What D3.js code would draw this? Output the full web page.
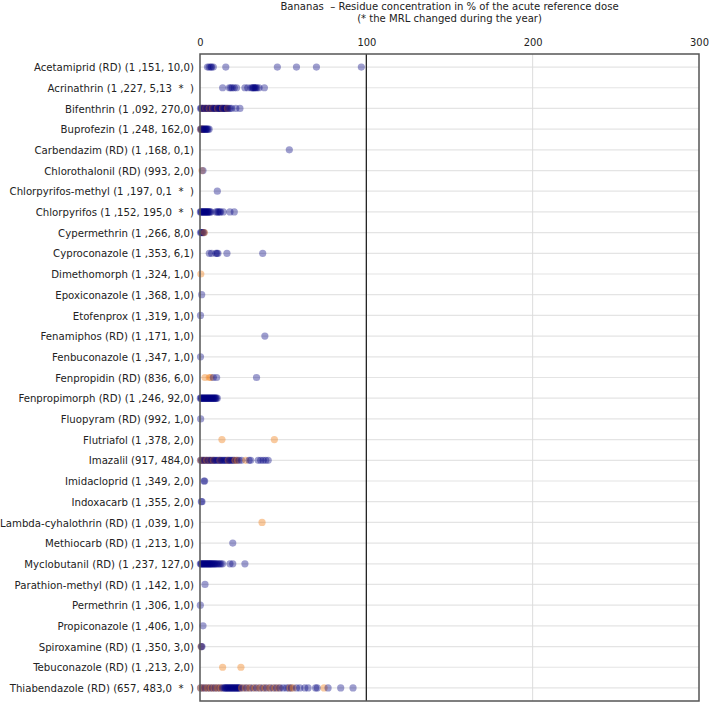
<!DOCTYPE html>
<html><head><meta charset="utf-8">
<script src="https://cdn.jsdelivr.net/npm/d3@7"></script>
<style>
body{margin:0;background:#fff;}
text{font-family:"DejaVu Sans Condensed","DejaVu Sans",sans-serif;fill:#222;white-space:pre;}
</style></head><body>
<svg id="c" width="709" height="702"></svg>
<script>
const titleLines = ["Bananas  \u2013 Residue concentration in % of the acute reference dose", "(* the MRL changed during the year)"];
const xTicks = [0, 100, 200, 300];
const categories = [
"Acetamiprid (RD) (1 ,151, 10,0)",
"Acrinathrin (1 ,227, 5,13  *  )",
"Bifenthrin (1 ,092, 270,0)",
"Buprofezin (1 ,248, 162,0)",
"Carbendazim (RD) (1 ,168, 0,1)",
"Chlorothalonil (RD) (993, 2,0)",
"Chlorpyrifos-methyl (1 ,197, 0,1  *  )",
"Chlorpyrifos (1 ,152, 195,0  *  )",
"Cypermethrin (1 ,266, 8,0)",
"Cyproconazole (1 ,353, 6,1)",
"Dimethomorph (1 ,324, 1,0)",
"Epoxiconazole (1 ,368, 1,0)",
"Etofenprox (1 ,319, 1,0)",
"Fenamiphos (RD) (1 ,171, 1,0)",
"Fenbuconazole (1 ,347, 1,0)",
"Fenpropidin (RD) (836, 6,0)",
"Fenpropimorph (RD) (1 ,246, 92,0)",
"Fluopyram (RD) (992, 1,0)",
"Flutriafol (1 ,378, 2,0)",
"Imazalil (917, 484,0)",
"Imidacloprid (1 ,349, 2,0)",
"Indoxacarb (1 ,355, 2,0)",
"Lambda-cyhalothrin (RD) (1 ,039, 1,0)",
"Methiocarb (RD) (1 ,213, 1,0)",
"Myclobutanil (RD) (1 ,237, 127,0)",
"Parathion-methyl (RD) (1 ,142, 1,0)",
"Permethrin (1 ,306, 1,0)",
"Propiconazole (1 ,406, 1,0)",
"Spiroxamine (RD) (1 ,350, 3,0)",
"Tebuconazole (RD) (1 ,213, 2,0)",
"Thiabendazole (RD) (657, 483,0  *  )"
];
// blue series values (% ARfD) per category
const blueValues = [
[4.5,5.5,6.5,7,8,15.5,46.5,58,70,97],
[13.6,17.6,18.5,19.4,20.6,22,27,28.7,30.7,31.5,32,32.5,33,33.5,34.3,35.5,38.7],
[0.3,0.8,1.2,1.8,2.5,3,3.6,4.2,5,5.5,6,6.8,7.4,8,8.6,9.2,9.8,10.4,11,11.5,12,12.6,13,13.5,14,14.6,15,15.6,16,17,18,19,21.5,24],
[0.3,0.8,1.2,1.6,2,2.5,3,3.4,3.8,4.3,4.8,5.5],
[53.7],
[1.8],
[10.4],
[0.2,0.6,1,1.4,1.8,2.2,2.6,3,3.4,3.8,4.2,4.6,5,5.5,6,6.5,9.6,10.4,11,11.8,12.4,14,18,20.6],
[0.3,0.8,1.2,1.6,2,2.4],
[5.6,7,9.6,10.2,10.8,16.2,37.7],
[],
[1],
[0.3],
[39],
[0.3],
[8,10,34],
[0.2,0.6,1,1.4,1.8,2.2,2.6,3,3.4,3.8,4.2,4.6,5,5.4,5.8,6.2,6.6,7,7.4,7.8,8.2,8.6,9,9.4,9.8,10.4],
[0.4],
[],
[0.3,1,1.8,2.5,3.2,4,4.8,5.5,6.2,7,7.8,8.5,9.2,10,10.8,11.5,12.2,13,13.8,14.5,15.2,16,16.8,17.5,18.2,19,19.8,20.5,22,23.5,25,29.5,30.5,35,36.5,38,39.5,41],
[2.4,2.8],
[0.8,1.2],
[],
[19.7],
[0.2,0.6,1,1.4,1.8,2.2,2.6,3,3.4,3.8,4.2,4.6,5,5.4,5.8,6.2,6.6,7,7.5,8,8.5,9,9.6,10.2,11,11.8,12.6,13.6,18,19.7,27],
[3],
[0.2],
[1.8],
[0.8,1.2],
[],
[0.3,1.5,3,4.5,6,7.5,9,10.5,12,13.5,14.5,15,15.5,16,16.5,17,17.5,18,18.5,19,19.5,20,20.5,21,21.5,22,22.5,23,23.5,24,26,28,30,32,34,36,38,40,42,44,46,48,50,52,53.5,55,58,60,63,65,69.5,70.5,77,84.6,92]
];
// orange series values (% ARfD) per category
const orangeValues = [
[],[],
[1.5,3.5,5.5,7.5,10.5,13.5,16.5],
[0.5,1.5],
[],
[1.2],
[],[],
[2.6],
[],
[0.5],
[],[],[],[],
[3,5.6,6.6],
[],[],
[13.2,44.7],
[0.5,2,4,6,8,12,17,21,22.5,27.5],
[],[],
[37.3],
[],[],[],[],[],
[0.6],
[13.6,24.6],
[0.5,2.5,4.5,6.5,8.5,10.5,12.5,25,27.5,30,33,36,39,42,45,47.5,54,56,74.6]
];

const svg = d3.select("#c");
const mLeft = 200, mRight = 699, mTop = 54, mBottom = 701;
const x = d3.scaleLinear().domain([0, 300]).range([mLeft, mRight]);
const y = d3.scalePoint().domain(categories).range([mTop, mBottom]).padding(0.63);
const color = d3.scaleOrdinal().domain(["blue", "orange"]).range(["#000080", "#f07a10"]);

// title
svg.append("g").selectAll("text").data(titleLines).join("text")
  .attr("x", (mLeft + mRight) / 2).attr("y", (d, i) => 9.5 + i * 12)
  .attr("text-anchor", "middle").style("font-size", "11.2px").text(d => d);

// horizontal gridlines
svg.append("g").selectAll("line").data(categories).join("line")
  .attr("x1", mLeft).attr("x2", mRight).attr("y1", d => y(d)).attr("y2", d => y(d))
  .attr("stroke", "#e4e4e4").attr("stroke-width", 1.2);

// vertical gridlines
svg.append("line").attr("x1", x(200)).attr("x2", x(200)).attr("y1", mTop).attr("y2", mBottom)
  .attr("stroke", "#dcdcdc").attr("stroke-width", 1);
svg.append("line").attr("x1", x(100)).attr("x2", x(100)).attr("y1", mTop).attr("y2", mBottom)
  .attr("stroke", "#222").attr("stroke-width", 1.3);

// top axis
const ax = svg.append("g").attr("transform", `translate(0,${mTop})`)
  .call(d3.axisTop(x).tickValues(xTicks).tickSize(0).tickPadding(8));
ax.select(".domain").remove();
ax.selectAll("text").style("font-size", "11px").attr("fill", "#222")
  .style("font-family", '"DejaVu Sans Condensed","DejaVu Sans",sans-serif');

// left labels
const ay = svg.append("g").attr("transform", `translate(${mLeft},0)`)
  .call(d3.axisLeft(y).tickSize(0).tickPadding(6));
ay.select(".domain").remove();
ay.selectAll("text").style("font-size", "11.3px").attr("fill", "#222")
  .style("font-family", '"DejaVu Sans Condensed","DejaVu Sans",sans-serif')
  .style("white-space", "pre");

// dots: both series merged and drawn in value order so overlaps blend
const dots = [];
categories.forEach((c, i) => {
  blueValues[i].forEach(v => dots.push({c, v, s: "blue"}));
  orangeValues[i].forEach(v => dots.push({c, v, s: "orange"}));
});
dots.sort((a, b) => a.v - b.v);
svg.append("g").selectAll("circle").data(dots).join("circle")
  .attr("cx", d => x(d.v)).attr("cy", d => y(d.c)).attr("r", 3.6)
  .attr("fill", d => color(d.s)).attr("fill-opacity", d => d.s === "blue" ? 0.38 : 0.4);

// frame
svg.append("rect").attr("x", mLeft).attr("y", mTop).attr("width", mRight - mLeft).attr("height", mBottom - mTop)
  .attr("fill", "none").attr("stroke", "#555").attr("stroke-width", 1.5);
</script>
</body></html>
